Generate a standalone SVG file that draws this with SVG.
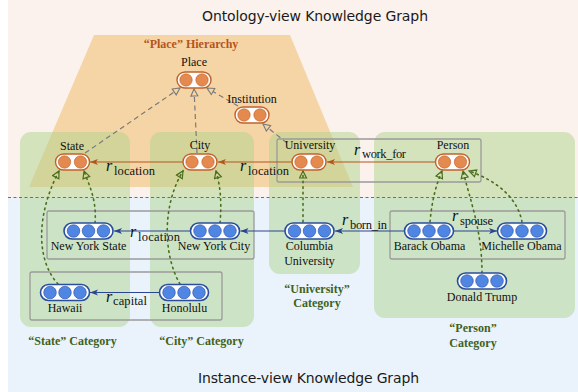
<svg xmlns="http://www.w3.org/2000/svg" xmlns:xlink="http://www.w3.org/1999/xlink" width="578" height="392" viewBox="0 0 578 392">
<style>
.lbl{font-family:"Liberation Serif","Times New Roman",serif;font-size:12px;fill:#111;text-anchor:middle}
.cat{font-family:"Liberation Serif","Times New Roman",serif;font-size:12px;font-weight:bold;fill:#3f6219;text-anchor:middle}
.title{font-family:"DejaVu Sans",sans-serif;font-size:14px;fill:#1a1a1a}
.rel{font-family:"Liberation Serif","Times New Roman",serif;fill:#111}
.ri{font-style:italic;font-size:16px}
.rs{font-size:12.5px}
.green{fill:#b0d38e;fill-opacity:0.5}
.grp{fill:none;stroke:#9a9a9a;stroke-width:1.3}
.eo{stroke:#b5541f;stroke-width:1.2;fill:none;marker-end:url(#mo)}
.eb{stroke:#2b4590;stroke-width:1.2;fill:none;marker-end:url(#mb)}
.sub{stroke:#7a7a7a;stroke-width:1.2;fill:none;stroke-dasharray:5 3.5;marker-end:url(#mg)}
.ins{stroke:#4a6e1e;stroke-width:1.6;fill:none;stroke-dasharray:1.6 4;stroke-linecap:round;marker-end:url(#mt)}
</style>
<defs>
<marker id="mo" markerUnits="userSpaceOnUse" markerWidth="9" markerHeight="8" refX="8" refY="4" orient="auto"><path d="M0,1 L8,4 L0,7 L2,4 z" fill="#b5541f"/></marker>
<marker id="mb" markerUnits="userSpaceOnUse" markerWidth="9" markerHeight="8" refX="8" refY="4" orient="auto"><path d="M0,1 L8,4 L0,7 L2,4 z" fill="#2b4590"/></marker>
<marker id="mg" markerUnits="userSpaceOnUse" markerWidth="10" markerHeight="10" refX="8" refY="4.5" orient="auto"><path d="M1,1 L8,4.5 L1,8 z" fill="#f5d5a5" stroke="#7a7a7a" stroke-width="1.1"/></marker>
<marker id="mt" markerUnits="userSpaceOnUse" markerWidth="10" markerHeight="10" refX="8" refY="4.5" orient="auto"><path d="M1,1 L8,4.5 L1,8 z" fill="none" stroke="#4a6e1e" stroke-width="1.2"/></marker>
<g id="on"><rect x="-17" y="-8" width="34" height="16" rx="8" fill="#fff" stroke="#c0622b" stroke-width="1.4"/><circle cx="-8" cy="0" r="6.2" fill="#e48a4e" stroke="#c0622b" stroke-width="0.6"/><circle cx="8" cy="0" r="6.2" fill="#e48a4e" stroke="#c0622b" stroke-width="0.6"/></g>
<g id="bn"><rect x="-24.5" y="-8" width="49" height="16" rx="8" fill="#fff" stroke="#2a4e9c" stroke-width="1.6"/><circle cx="-15" cy="0" r="6.3" fill="#4f86e3" stroke="#2a4e9c" stroke-width="0.6"/><circle cx="0" cy="0" r="6.3" fill="#4f86e3" stroke="#2a4e9c" stroke-width="0.6"/><circle cx="15" cy="0" r="6.3" fill="#4f86e3" stroke="#2a4e9c" stroke-width="0.6"/></g>
</defs>

<g id="background">
<rect x="8" y="0" width="570" height="197" fill="#fbf2ed"/>
<rect x="8" y="197" width="570" height="195" fill="#eaf3fc"/>
<polygon points="94,35 290,35 353,187 29,187" fill="#f5d5a5"/>
<rect class="green" x="20" y="132" width="110" height="195" rx="11"/>
<rect class="green" x="150" y="132" width="104" height="195" rx="11"/>
<rect class="green" x="269" y="132" width="91" height="142" rx="11"/>
<rect class="green" x="374" y="132" width="201" height="186" rx="11"/>
<rect class="grp" x="277" y="139" width="204" height="43" rx="2"/>
<rect class="grp" x="47" y="211" width="207" height="48" rx="2"/>
<rect class="grp" x="30" y="272" width="192" height="48" rx="2"/>
<rect class="grp" x="390" y="211" width="175" height="48" rx="2"/>
<line x1="8" y1="197.5" x2="578" y2="197.5" stroke="#6e6e6e" stroke-width="1" stroke-dasharray="3 2.5"/>
</g>

<g id="titles">
<text class="title" x="202" y="21" textLength="226">Ontology-view Knowledge Graph</text>
<text class="title" x="198" y="383" textLength="221">Instance-view Knowledge Graph</text>
<text x="191" y="48" font-family="Liberation Serif, Times New Roman, serif" font-size="12" font-weight="bold" fill="#b5541f" text-anchor="middle">“Place” Hierarchy</text>
<text class="cat" x="72.5" y="345">“State” Category</text>
<text class="cat" x="201.5" y="345">“City” Category</text>
<text class="cat" x="317" y="293">“University”</text>
<text class="cat" x="317" y="307">Category</text>
<text class="cat" x="473" y="332">“Person”</text>
<text class="cat" x="473" y="347">Category</text>
</g>

<g id="connectors">
<path class="sub" d="M85,153 L180,88"/>
<path class="sub" d="M197,153 L194,89"/>
<path class="sub" d="M238,106 L207,88"/>
<path class="sub" d="M287,143 L263,124"/>
<path class="eo" d="M183,162 L90,162"/>
<path class="eo" d="M292,162 L218,162"/>
<path class="eo" d="M436,162 L327,162"/>
<path class="eb" d="M190.5,231 L114,231"/>
<path class="eb" d="M285,231 L240.5,231"/>
<path class="eb" d="M404.5,231 L335,231"/>
<path class="eb" d="M453.5,231 L497,231"/>
<path class="eb" d="M160,292.5 L90,292.5"/>
<path class="ins" d="M95,223 C97,200 89,185 84,171"/>
<path class="ins" d="M58,284 C36,260 36,215 59,171"/>
<path class="ins" d="M220,223 C222,200 220,185 216,171"/>
<path class="ins" d="M180,284 C163,255 162,205 183,171"/>
<path class="ins" d="M303,222 L303,171"/>
<path class="ins" d="M430,222 C432,200 436,185 442,171"/>
<path class="ins" d="M522,222 C518,200 500,182 469,171"/>
<path class="ins" d="M482,273 C482,230 470,200 463,171"/>
<text class="rel" x="106" y="171"><tspan class="ri">r</tspan></text>
<text class="rel rs" x="114" y="175" textLength="41">location</text>
<text class="rel" x="240" y="171"><tspan class="ri">r</tspan></text>
<text class="rel rs" x="248" y="175" textLength="41">location</text>
<text class="rel" x="354" y="155"><tspan class="ri">r</tspan></text>
<text class="rel rs" x="362" y="158" textLength="44">work_for</text>
<text class="rel" x="130" y="237"><tspan class="ri">r</tspan></text>
<text class="rel rs" x="138" y="241" textLength="42">location</text>
<text class="rel" x="342" y="225"><tspan class="ri">r</tspan></text>
<text class="rel rs" x="350" y="229" textLength="37">born_in</text>
<text class="rel" x="452" y="221"><tspan class="ri">r</tspan></text>
<text class="rel rs" x="460" y="225" textLength="33">spouse</text>
<text class="rel" x="106" y="302"><tspan class="ri">r</tspan></text>
<text class="rel rs" x="113" y="305" textLength="34">capital</text>
</g>

<g id="place"><use xlink:href="#on" x="194" y="80"/><text class="lbl" x="194" y="66">Place</text></g>
<g id="institution"><use xlink:href="#on" x="252" y="115"/><text class="lbl" x="252" y="103">Institution</text></g>
<g id="state"><use xlink:href="#on" x="72.5" y="162"/><text class="lbl" x="72" y="150">State</text></g>
<g id="city"><use xlink:href="#on" x="200" y="162"/><text class="lbl" x="200" y="149">City</text></g>
<g id="university"><use xlink:href="#on" x="309" y="162"/><text class="lbl" x="310" y="149">University</text></g>
<g id="person"><use xlink:href="#on" x="452.5" y="162"/><text class="lbl" x="453" y="149">Person</text></g>
<g id="new-york-state"><use xlink:href="#bn" x="88.5" y="231"/><text class="lbl" x="88.5" y="250">New York State</text></g>
<g id="new-york-city"><use xlink:href="#bn" x="215" y="231"/><text class="lbl" x="214" y="250">New York City</text></g>
<g id="columbia-university"><use xlink:href="#bn" x="309.5" y="231"/><text class="lbl" x="309.5" y="250">Columbia</text><text class="lbl" x="309.5" y="265">University</text></g>
<g id="barack-obama"><use xlink:href="#bn" x="429" y="231"/><text class="lbl" x="429.5" y="250">Barack Obama</text></g>
<g id="michelle-obama"><use xlink:href="#bn" x="522" y="231"/><text class="lbl" x="521.5" y="250">Michelle Obama</text></g>
<g id="hawaii"><use xlink:href="#bn" x="65" y="292.5"/><text class="lbl" x="65" y="312">Hawaii</text></g>
<g id="honolulu"><use xlink:href="#bn" x="184" y="292.5"/><text class="lbl" x="184.5" y="312">Honolulu</text></g>
<g id="donald-trump"><use xlink:href="#bn" x="482" y="281"/><text class="lbl" x="482" y="301">Donald Trump</text></g>
</svg>
